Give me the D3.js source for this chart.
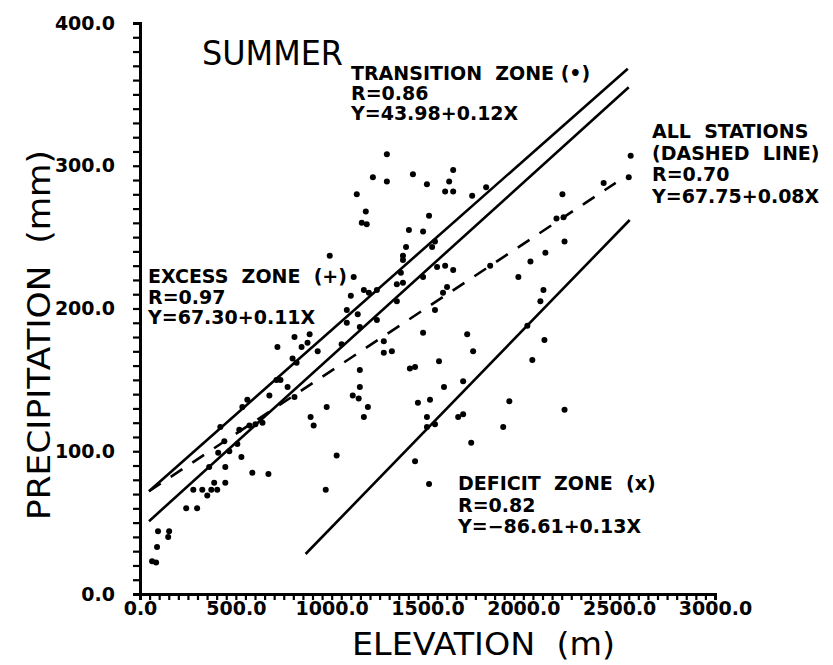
<!DOCTYPE html>
<html>
<head>
<meta charset="utf-8">
<script src="https://cdn.jsdelivr.net/npm/d3@7"></script>
<style>
  body { margin: 0; background: #fff; }
  text { fill: #000; white-space: pre; }
</style>
</head>
<body>
<svg id="chart" width="833" height="665"></svg>
<script>
// station elevation (m) and summer precipitation (mm)
const elevation = [
  63, 84, 89, 94, 152, 147, 241, 298, 278, 325, 351, 372, 387, 403, 445, 445, 361, 408, 466, 529,
  586, 670, 508, 518, 571, 602, 639, 419, 440, 534, 560, 675, 712, 733, 770, 806, 717, 806, 843, 874,
  885, 796, 817, 927, 1052, 974, 890, 906, 1026, 969, 1147, 1147, 1110, 1141, 1189, 1168, 1115, 1100, 1168, 1194,
  1236, 1079, 1136, 1079, 1147, 1236, 1272, 1272, 1314, 1340, 1361, 1340, 1372, 1288, 1215, 1288, 1424, 1131, 1178, 1157,
  1183, 1403, 1388, 1372, 1372, 990, 1634, 1497, 1613, 1592, 1634, 1733, 1806, 1508, 1477, 1539, 1524, 1550, 1592, 1634,
  1477, 1827, 1974, 2037, 2115, 2173, 2210, 2204, 2215, 1602, 1581, 2105, 2089, 1539, 1477, 1707, 1738, 2021, 2110, 1560,
  2047, 1408, 1435, 1686, 1586, 1450, 1513, 1927, 2215, 1497, 1660, 1686, 1497, 1539, 1895, 1728, 1435, 1508, 2560, 2550,
  2419
];
const precipitation = [
  23, 22, 33, 44, 44, 40, 60, 60, 73, 73, 69, 73, 78, 73, 78, 89, 89, 99, 100, 96,
  85, 84, 105, 115, 118, 119, 120, 117, 107, 131, 136, 139, 150, 150, 145, 138, 173, 180, 173, 176,
  182, 165, 162, 170, 175, 131, 124, 118, 97, 73, 157, 145, 139, 137, 131, 124, 222, 209, 213, 211,
  213, 199, 196, 190, 187, 192, 177, 169, 170, 205, 225, 217, 218, 308, 292, 289, 294, 280, 268, 260,
  259, 255, 243, 237, 234, 237, 297, 287, 289, 282, 282, 279, 285, 265, 254, 247, 243, 229, 230, 227,
  222, 230, 222, 233, 239, 263, 264, 280, 247, 215, 211, 213, 205, 199, 183, 182, 170, 188, 178, 163,
  164, 158, 159, 149, 145, 134, 136, 135, 129, 124, 124, 126, 117, 119, 117, 106, 93, 77, 307, 292,
  288
];

// regression lines as drawn: start / end (elevation, precipitation)
const fitNames = ["excess", "transition", "all", "deficit"];
const fitStart = [[47, 72], [47, 51], [47, 72], [864, 28]];
const fitEnd = [[2545, 368], [2550, 355], [2482, 288], [2555, 262]];
const fitDashed = [false, false, true, false];

const yTicks = d3.range(0, 401, 10);
const xTicks = d3.range(0, 3001, 50);

const svg = d3.select("#chart");

const x = d3.scaleLinear().domain([0, 3000]).range([140, 715]);
const y = d3.scaleLinear().domain([0, 400]).range([594, 23]);

const fmt = d3.format(".1f");

// axes
const yAxis = svg.append("g")
    .attr("transform", `translate(${x(0)},0)`)
    .call(d3.axisLeft(y).tickValues(yTicks).tickSize(7).tickPadding(18)
        .tickFormat(d => d % 100 === 0 ? fmt(d) : ""));

const xAxis = svg.append("g")
    .attr("transform", `translate(0,${y(0)})`)
    .call(d3.axisBottom(x).tickValues(xTicks).tickSize(6).tickPadding(2)
        .tickFormat(d => d % 500 === 0 ? fmt(d) : ""));

[yAxis, xAxis].forEach(g => {
    g.select(".domain").attr("stroke", "#000").attr("stroke-width", 3);
    g.selectAll(".tick line").attr("stroke", "#000").attr("stroke-width", 2.2);
    g.selectAll(".tick text")
        .attr("font-family", "DejaVu Sans")
        .attr("font-weight", "bold")
        .attr("font-size", 19);
});

// regression lines
svg.append("g").selectAll("line").data(fitNames).enter().append("line")
    .attr("x1", (d, i) => x(fitStart[i][0]))
    .attr("y1", (d, i) => y(fitStart[i][1]))
    .attr("x2", (d, i) => x(fitEnd[i][0]))
    .attr("y2", (d, i) => y(fitEnd[i][1]))
    .attr("stroke", "#000")
    .attr("stroke-width", 2.6)
    .attr("stroke-dasharray", (d, i) => fitDashed[i] ? "14,12" : null);

// stations
svg.append("g").selectAll("circle").data(elevation).enter().append("circle")
    .attr("cx", d => x(d))
    .attr("cy", (d, i) => y(precipitation[i]))
    .attr("r", 3)
    .attr("fill", "#000");

// axis titles
svg.append("text")
    .attr("x", 352).attr("y", 655)
    .attr("font-family", "DejaVu Sans")
    .attr("font-size", 32)
    .attr("textLength", 263)
    .attr("lengthAdjust", "spacingAndGlyphs")
    .text("ELEVATION  (m)");

svg.append("text")
    .attr("transform", "translate(50,520) rotate(-90)")
    .attr("font-family", "DejaVu Sans")
    .attr("font-size", 32)
    .attr("textLength", 370)
    .attr("lengthAdjust", "spacingAndGlyphs")
    .text("PRECIPITATION  (mm)");

svg.append("text")
    .attr("x", 202).attr("y", 65)
    .attr("font-family", "DejaVu Sans")
    .attr("font-size", 34)
    .attr("textLength", 141)
    .attr("lengthAdjust", "spacingAndGlyphs")
    .text("SUMMER");

// zone annotations
const notes = [
    { x: 351, y: 80, lines: ["TRANSITION  ZONE (•)", "R=0.86", "Y=43.98+0.12X"], gap: 20 },
    { x: 148, y: 283, lines: ["EXCESS  ZONE  (+)", "R=0.97", "Y=67.30+0.11X"], gap: 20.5 },
    { x: 652, y: 138, lines: ["ALL  STATIONS", "(DASHED  LINE)", "R=0.70", "Y=67.75+0.08X"], gap: 21.5 },
    { x: 458, y: 490, lines: ["DEFICIT  ZONE  (x)", "R=0.82", "Y=\u221286.61+0.13X"], gap: 21.5 }
];

notes.forEach(n => {
    svg.append("g").selectAll("text").data(n.lines).enter().append("text")
        .attr("x", n.x)
        .attr("y", (d, i) => n.y + i * n.gap)
        .attr("font-family", "DejaVu Sans")
        .attr("font-weight", "bold")
        .attr("font-size", 19)
        .text(d => d);
});
</script>
</body>
</html>
